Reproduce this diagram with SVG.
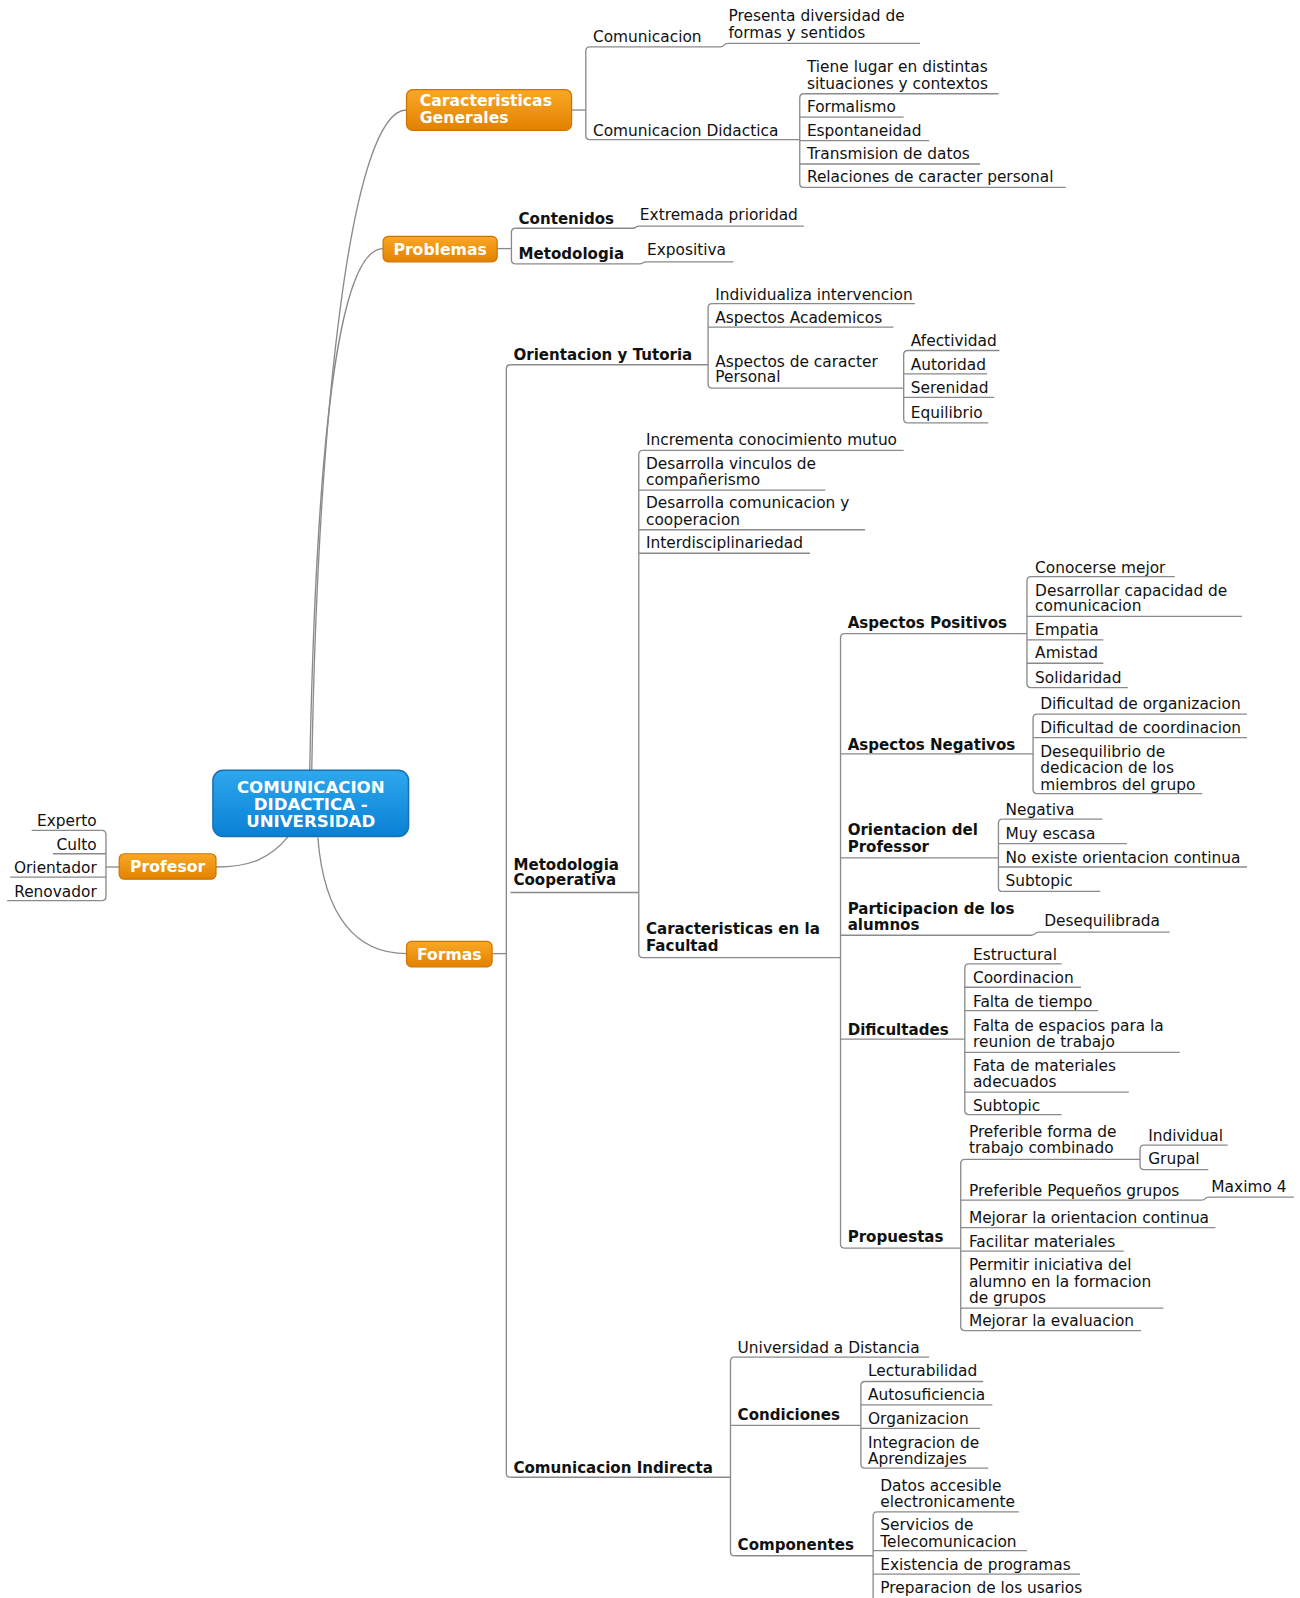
<svg xmlns="http://www.w3.org/2000/svg" width="1300" height="1598" viewBox="0 0 1300 1598">
<defs>
<linearGradient id="gBlue" x1="0" y1="0" x2="0" y2="1"><stop offset="0" stop-color="#2ea8ee"/><stop offset="1" stop-color="#0a80d4"/></linearGradient>
<linearGradient id="gOr" x1="0" y1="0" x2="0" y2="1"><stop offset="0" stop-color="#f9a826"/><stop offset="1" stop-color="#e38100"/></linearGradient>
<style>
text{font-family:"DejaVu Sans",Verdana,sans-serif;font-size:15.1px;fill:#111}
.b{font-weight:bold;font-size:14.8px}
.w{fill:#fff;font-weight:bold;font-size:15.4px}
.ct{fill:#fff;font-weight:bold;font-size:16.3px;text-anchor:middle}
.e{text-anchor:end}
.m{text-anchor:middle}
path,line{fill:none;stroke:#8a8a8a;stroke-width:1.3}
.ob{fill:url(#gOr);stroke:#cf7300;stroke-width:1.2}
.bb{fill:url(#gBlue);stroke:#1a6fb5;stroke-width:1.5}
</style>
</defs>
<rect width="1300" height="1598" fill="#fff"/>
<g transform="scale(1.01881)">
<g id="connectors">
<path d="M306,756 C312,400 345,108 399,108"/>
<path d="M304,756 C310,450 330,244 376,244"/>
<path d="M283,821 C265,843 245,851 212,851"/>
<path d="M312,822 C318,900 350,936 399,936"/>
<path d="M561,108 H575"/>
<path d="M579,46 Q575,46 575,50 V133 Q575,137 579,137"/>
<path d="M789,92 Q785,92 785,96 V180 Q785,184 789,184"/>
<path d="M488,244 H502"/>
<path d="M506,224 Q502,224 502,228 V255 Q502,259 506,259"/>
<path d="M483,936 H497"/>
<path d="M501,358 Q497,358 497,362 V1446 Q497,1450 501,1450"/>
<path d="M699,298 Q695,298 695,302 V377 Q695,381 699,381"/>
<path d="M891,344 Q887,344 887,348 V411 Q887,415 891,415"/>
<path d="M631,442 Q627,442 627,446 V936 Q627,940 631,940"/>
<path d="M829,622 Q825,622 825,626 V1221 Q825,1225 829,1225"/>
<path d="M1012,566 Q1008,566 1008,570 V671 Q1008,675 1012,675"/>
<path d="M1018,701 Q1014,701 1014,705 V775 Q1014,779 1018,779"/>
<path d="M984,804 Q980,804 980,808 V871 Q980,875 984,875"/>
<path d="M951,946 Q947,946 947,950 V1090 Q947,1094 951,1094"/>
<path d="M947,1138 Q943,1138 943,1142 V1302 Q943,1306 947,1306"/>
<path d="M1123,1124 Q1119,1124 1119,1128 V1144 Q1119,1148 1123,1148"/>
<path d="M721,1332 Q717,1332 717,1336 V1523 Q717,1527 721,1527"/>
<path d="M849,1356 Q845,1356 845,1360 V1437 Q845,1441 849,1441"/>
<path d="M861,1484 Q857,1484 857,1488 V1572"/>
<path d="M104,851 H117"/>
<path d="M100,815 Q104,815 104,819 V880 Q104,884 100,884"/>
</g>

<g id="central">
<rect class="bb" x="209" y="756" width="192" height="65" rx="10"/>
<text class="ct" x="305" y="778">COMUNICACION</text>
<text class="ct" x="305" y="795">DIDACTICA -</text>
<text class="ct" x="305" y="812">UNIVERSIDAD</text>
</g>

<g id="caracteristicas-generales">
<rect class="ob" x="399" y="88" width="162" height="40" rx="6"/>
<text class="w" x="412" y="104">Caracteristicas</text>
<text class="w" x="412" y="121">Generales</text>
</g>
<g id="comunicacion"><text x="582" y="41">Comunicacion</text><path d="M579,46 H707 Q710,46 711,44 Q712,42.5 715,42.5 H903"/></g>
<g id="presenta"><text x="715" y="21">Presenta diversidad de</text><text x="715" y="37">formas y sentidos</text></g>
<g id="comunicacion-didactica"><text x="582" y="133">Comunicacion Didactica</text><path d="M579,137 H785"/></g>
<g id="tiene-lugar"><text x="792" y="71">Tiene lugar en distintas</text><text x="792" y="87">situaciones y contextos</text><path d="M789,92 H980"/></g>
<g id="formalismo"><text x="792" y="110">Formalismo</text><path d="M785,115 H887"/></g>
<g id="espontaneidad"><text x="792" y="133">Espontaneidad</text><path d="M785,138 H912"/></g>
<g id="transmision"><text x="792" y="156">Transmision de datos</text><path d="M785,161 H962"/></g>
<g id="relaciones"><text x="792" y="179">Relaciones de caracter personal</text><path d="M789,184 H1046"/></g>

<g id="problemas">
<rect class="ob" x="376" y="232" width="112" height="25" rx="5"/>
<text class="w m" x="432" y="250">Problemas</text>
</g>
<g id="contenidos"><text class="b" x="509" y="220">Contenidos</text><path d="M506,224 H620 Q623,224 624,223 Q625,222 628,222 H789"/></g>
<g id="extremada"><text x="628" y="216">Extremada prioridad</text></g>
<g id="metodologia"><text class="b" x="509" y="254">Metodologia</text><path d="M506,259 H627 Q630,259 631,258 Q632,257 635,257 H720"/></g>
<g id="expositiva"><text x="635" y="250">Expositiva</text></g>

<g id="profesor">
<rect class="ob" x="117" y="838" width="95" height="25" rx="5"/>
<text class="w m" x="164.5" y="856">Profesor</text>
</g>
<g id="experto"><text class="e" x="95" y="811">Experto</text><path d="M100,815 H31"/></g>
<g id="culto"><text class="e" x="95" y="834">Culto</text><path d="M104,838 H52"/></g>
<g id="orientador"><text class="e" x="95" y="857">Orientador</text><path d="M104,861 H10"/></g>
<g id="renovador"><text class="e" x="95" y="880">Renovador</text><path d="M100,884 H7"/></g>

<g id="formas">
<rect class="ob" x="399" y="924" width="84" height="25" rx="5"/>
<text class="w m" x="441" y="942">Formas</text>
</g>

<g id="orientacion-tutoria"><text class="b" x="504" y="353">Orientacion y Tutoria</text><path d="M501,358 H695"/></g>
<g id="individualiza"><text x="702" y="294">Individualiza intervencion</text><path d="M699,298 H898"/></g>
<g id="aspectos-academicos"><text x="702" y="317">Aspectos Academicos</text><path d="M695,321 H877"/></g>
<g id="aspectos-personal"><text x="702" y="360">Aspectos de caracter</text><text x="702" y="375">Personal</text><path d="M699,381 H887"/></g>
<g id="afectividad"><text x="894" y="340">Afectividad</text><path d="M891,344 H981"/></g>
<g id="autoridad"><text x="894" y="363">Autoridad</text><path d="M887,367 H969"/></g>
<g id="serenidad"><text x="894" y="386">Serenidad</text><path d="M887,390 H976"/></g>
<g id="equilibrio"><text x="894" y="410">Equilibrio</text><path d="M891,415 H970"/></g>

<g id="metodologia-cooperativa"><text class="b" x="504" y="854">Metodologia</text><text class="b" x="504" y="869">Cooperativa</text><path d="M501,876 H627"/></g>
<g id="incrementa"><text x="634" y="437">Incrementa conocimiento mutuo</text><path d="M631,442 H887"/></g>
<g id="vinculos"><text x="634" y="460">Desarrolla vinculos de</text><text x="634" y="476">compañerismo</text><path d="M627,481 H810"/></g>
<g id="desarrolla-comunicacion"><text x="634" y="499">Desarrolla comunicacion y</text><text x="634" y="515">cooperacion</text><path d="M627,520 H849"/></g>
<g id="interdisciplinariedad"><text x="634" y="538">Interdisciplinariedad</text><path d="M627,543 H795"/></g>
<g id="caracteristicas-facultad"><text class="b" x="634" y="917">Caracteristicas en la</text><text class="b" x="634" y="933">Facultad</text><path d="M631,940 H825"/></g>

<g id="aspectos-positivos"><text class="b" x="832" y="616">Aspectos Positivos</text><path d="M829,622 H1008"/></g>
<g id="conocerse"><text x="1016" y="562">Conocerse mejor</text><path d="M1012,566 H1153"/></g>
<g id="desarrollar"><text x="1016" y="585">Desarrollar capacidad de</text><text x="1016" y="600">comunicacion</text><path d="M1008,605 H1219"/></g>
<g id="empatia"><text x="1016" y="623">Empatia</text><path d="M1008,628 H1083"/></g>
<g id="amistad"><text x="1016" y="646">Amistad</text><path d="M1008,651 H1083"/></g>
<g id="solidaridad"><text x="1016" y="670">Solidaridad</text><path d="M1012,675 H1107"/></g>

<g id="aspectos-negativos"><text class="b" x="832" y="736">Aspectos Negativos</text><path d="M825,740 H1014"/></g>
<g id="dif-organizacion"><text x="1021" y="696">Dificultad de organizacion</text><path d="M1018,701 H1224"/></g>
<g id="dif-coordinacion"><text x="1021" y="719">Dificultad de coordinacion</text><path d="M1014,724 H1224"/></g>
<g id="desequilibrio"><text x="1021" y="743">Desequilibrio de</text><text x="1021" y="759">dedicacion de los</text><text x="1021" y="775">miembros del grupo</text><path d="M1018,779 H1180"/></g>

<g id="orientacion-profesor"><text class="b" x="832" y="820">Orientacion del</text><text class="b" x="832" y="836">Professor</text><path d="M825,842 H980"/></g>
<g id="negativa"><text x="987" y="800">Negativa</text><path d="M984,804 H1082"/></g>
<g id="muy-escasa"><text x="987" y="824">Muy escasa</text><path d="M980,828 H1106"/></g>
<g id="no-existe"><text x="987" y="847">No existe orientacion continua</text><path d="M980,851 H1224"/></g>
<g id="subtopic-1"><text x="987" y="870">Subtopic</text><path d="M984,875 H1080"/></g>

<g id="participacion"><text class="b" x="832" y="897">Participacion de los</text><text class="b" x="832" y="913">alumnos</text><path d="M825,918 H1012 Q1015,918 1016,916.5 Q1017,915 1020,915 H1148"/></g>
<g id="desequilibrada"><text x="1025" y="909">Desequilibrada</text></g>

<g id="dificultades"><text class="b" x="832" y="1016">Dificultades</text><path d="M825,1020 H947"/></g>
<g id="estructural"><text x="955" y="942">Estructural</text><path d="M951,946 H1042"/></g>
<g id="coordinacion"><text x="955" y="965">Coordinacion</text><path d="M947,969 H1061"/></g>
<g id="falta-tiempo"><text x="955" y="988">Falta de tiempo</text><path d="M947,992 H1078"/></g>
<g id="falta-espacios"><text x="955" y="1012">Falta de espacios para la</text><text x="955" y="1028">reunion de trabajo</text><path d="M947,1033 H1158"/></g>
<g id="fata-materiales"><text x="955" y="1051">Fata de materiales</text><text x="955" y="1067">adecuados</text><path d="M947,1072 H1108"/></g>
<g id="subtopic-2"><text x="955" y="1090">Subtopic</text><path d="M951,1094 H1042"/></g>

<g id="propuestas"><text class="b" x="832" y="1219">Propuestas</text><path d="M829,1225 H943"/></g>
<g id="preferible-forma"><text x="951" y="1116">Preferible forma de</text><text x="951" y="1132">trabajo combinado</text><path d="M947,1138 H1119"/></g>
<g id="individual"><text x="1127" y="1120">Individual</text><path d="M1123,1124 H1205"/></g>
<g id="grupal"><text x="1127" y="1143">Grupal</text><path d="M1123,1148 H1186"/></g>
<g id="pequenos"><text x="951" y="1174">Preferible Pequeños grupos</text><path d="M943,1178 H1179 Q1182,1178 1183,1176.5 Q1184,1175 1187,1175 H1270"/></g>
<g id="maximo"><text x="1189" y="1170">Maximo 4</text></g>
<g id="mejorar-orientacion"><text x="951" y="1200">Mejorar la orientacion continua</text><path d="M943,1205 H1193"/></g>
<g id="facilitar"><text x="951" y="1224">Facilitar materiales</text><path d="M943,1228 H1103"/></g>
<g id="permitir"><text x="951" y="1247">Permitir iniciativa del</text><text x="951" y="1263">alumno en la formacion</text><text x="951" y="1279">de grupos</text><path d="M943,1284 H1142"/></g>
<g id="mejorar-evaluacion"><text x="951" y="1302">Mejorar la evaluacion</text><path d="M947,1306 H1120"/></g>

<g id="comunicacion-indirecta"><text class="b" x="504" y="1446">Comunicacion Indirecta</text><path d="M501,1450 H717"/></g>
<g id="universidad-distancia"><text x="724" y="1328">Universidad a Distancia</text><path d="M721,1332 H912"/></g>
<g id="condiciones"><text class="b" x="724" y="1394">Condiciones</text><path d="M717,1399 H845"/></g>
<g id="lecturabilidad"><text x="852" y="1351">Lecturabilidad</text><path d="M849,1356 H965"/></g>
<g id="autosuficiencia"><text x="852" y="1374">Autosuficiencia</text><path d="M845,1379 H974"/></g>
<g id="organizacion"><text x="852" y="1398">Organizacion</text><path d="M845,1402 H962"/></g>
<g id="integracion"><text x="852" y="1421">Integracion de</text><text x="852" y="1437">Aprendizajes</text><path d="M849,1441 H970"/></g>
<g id="componentes"><text class="b" x="724" y="1521">Componentes</text><path d="M721,1527 H857"/></g>
<g id="datos"><text x="864" y="1463">Datos accesible</text><text x="864" y="1479">electronicamente</text><path d="M861,1484 H1000"/></g>
<g id="servicios"><text x="864" y="1502">Servicios de</text><text x="864" y="1518">Telecomunicacion</text><path d="M857,1522 H1008"/></g>
<g id="existencia"><text x="864" y="1541">Existencia de programas</text><path d="M857,1545 H1060"/></g>
<g id="preparacion"><text x="864" y="1564">Preparacion de los usarios</text></g>
</g>
</svg>
